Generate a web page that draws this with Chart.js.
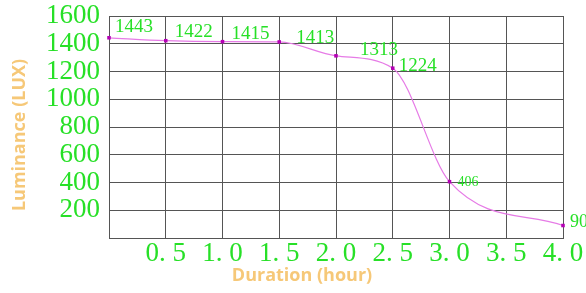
<!DOCTYPE html>
<html>
<head>
<meta charset="utf-8">
<script src="https://cdn.jsdelivr.net/npm/chart.js@4.4.0/dist/chart.umd.min.js"></script>
<style>
  html, body { margin: 0; padding: 0; background: #fff; }
  #wrap { width: 586px; height: 293px; }
</style>
</head>
<body>
<div id="wrap"><canvas id="grafico" width="586" height="293"></canvas></div>
<script>
const horas = [0, 0.5, 1.0, 1.5, 2.0, 2.5, 3.0, 4.0];
const luminancia = [1443, 1422, 1415, 1413, 1313, 1224, 406, 90];
const tituloX = 'Duration (hour)';
const tituloY = 'Luminance (LUX)';

const verde = '#27e027';
const laranja = '#f6c878';

// deslocamento e tamanho de cada rótulo (só estilo)
const rotuloEstilo = [
  { dx: 6, dy: -11, size: 19 },
  { dx: 9, dy: -9, size: 19 },
  { dx: 9, dy: -8, size: 19 },
  { dx: 17, dy: -4, size: 19 },
  { dx: 24, dy: -6, size: 19 },
  { dx: 6, dy: -2, size: 19 },
  { dx: 8, dy: 1, size: 14 },
  { dx: 7, dy: -3, size: 18 }
];

const pluginRotulos = {
  id: 'rotulos',
  afterDatasetsDraw(chart) {
    const ctx = chart.ctx;
    const meta = chart.getDatasetMeta(0);
    ctx.save();
    ctx.fillStyle = verde;
    ctx.textBaseline = 'middle';
    ctx.textAlign = 'left';
    meta.data.forEach((p, i) => {
      const e = rotuloEstilo[i];
      ctx.font = e.size + 'px "Liberation Serif"';
      ctx.fillText(String(luminancia[i]), p.x + e.dx, p.y + e.dy);
    });
    // títulos dos eixos
    ctx.fillStyle = laranja;
    ctx.font = 'bold 18px "Open Sans"';
    ctx.textAlign = 'center';
    ctx.fillText(tituloX, 302, 276);
    ctx.translate(20, 135);
    ctx.rotate(-Math.PI / 2);
    ctx.fillText(tituloY, 0, 0);
    ctx.restore();
  }
};

const fmtX = v => {
  if (v === 0) return '';
  const s = v.toFixed(1).split('.');
  return s[0] + '. ' + s[1];
};

new Chart(document.getElementById('grafico'), {
  type: 'line',
  data: {
    datasets: [{
      data: horas.map((h, i) => ({ x: h, y: luminancia[i] })),
      borderColor: '#e67be6',
      borderWidth: 1.2,
      backgroundColor: '#b400b4',
      pointStyle: 'rect',
      pointRadius: 2.5,
      pointBorderWidth: 0,
      cubicInterpolationMode: 'monotone',
      fill: false,
      clip: false
    }]
  },
  options: {
    responsive: false,
    animation: false,
    layout: { padding: { top: 16, right: 23, left: 0, bottom: 0 } },
    plugins: {
      legend: { display: false },
      tooltip: { enabled: false }
    },
    scales: {
      x: {
        type: 'linear',
        min: 0,
        max: 4,
        afterFit: s => { s.height = 55; s.paddingLeft = 0; s.paddingRight = 0; },
        ticks: {
          stepSize: 0.5,
          color: verde,
          font: { family: 'Liberation Serif', size: 27 },
          padding: 0,
          maxRotation: 0,
          autoSkip: false,
          callback: v => fmtX(v)
        },
        grid: { color: '#555', drawTicks: false },
        border: { color: '#555' }
      },
      y: {
        min: 0,
        max: 1600,
        afterFit: s => { s.width = 109; s.paddingTop = 0; s.paddingBottom = 0; },
        ticks: {
          stepSize: 200,
          autoSkip: false,
          color: verde,
          font: { family: 'Liberation Serif', size: 27 },
          padding: 9,
          callback: v => (v === 0 ? '' : String(v))
        },
        grid: { color: '#555', drawTicks: false },
        border: { color: '#555' }
      }
    }
  },
  plugins: [pluginRotulos]
});
</script>
</body>
</html>
